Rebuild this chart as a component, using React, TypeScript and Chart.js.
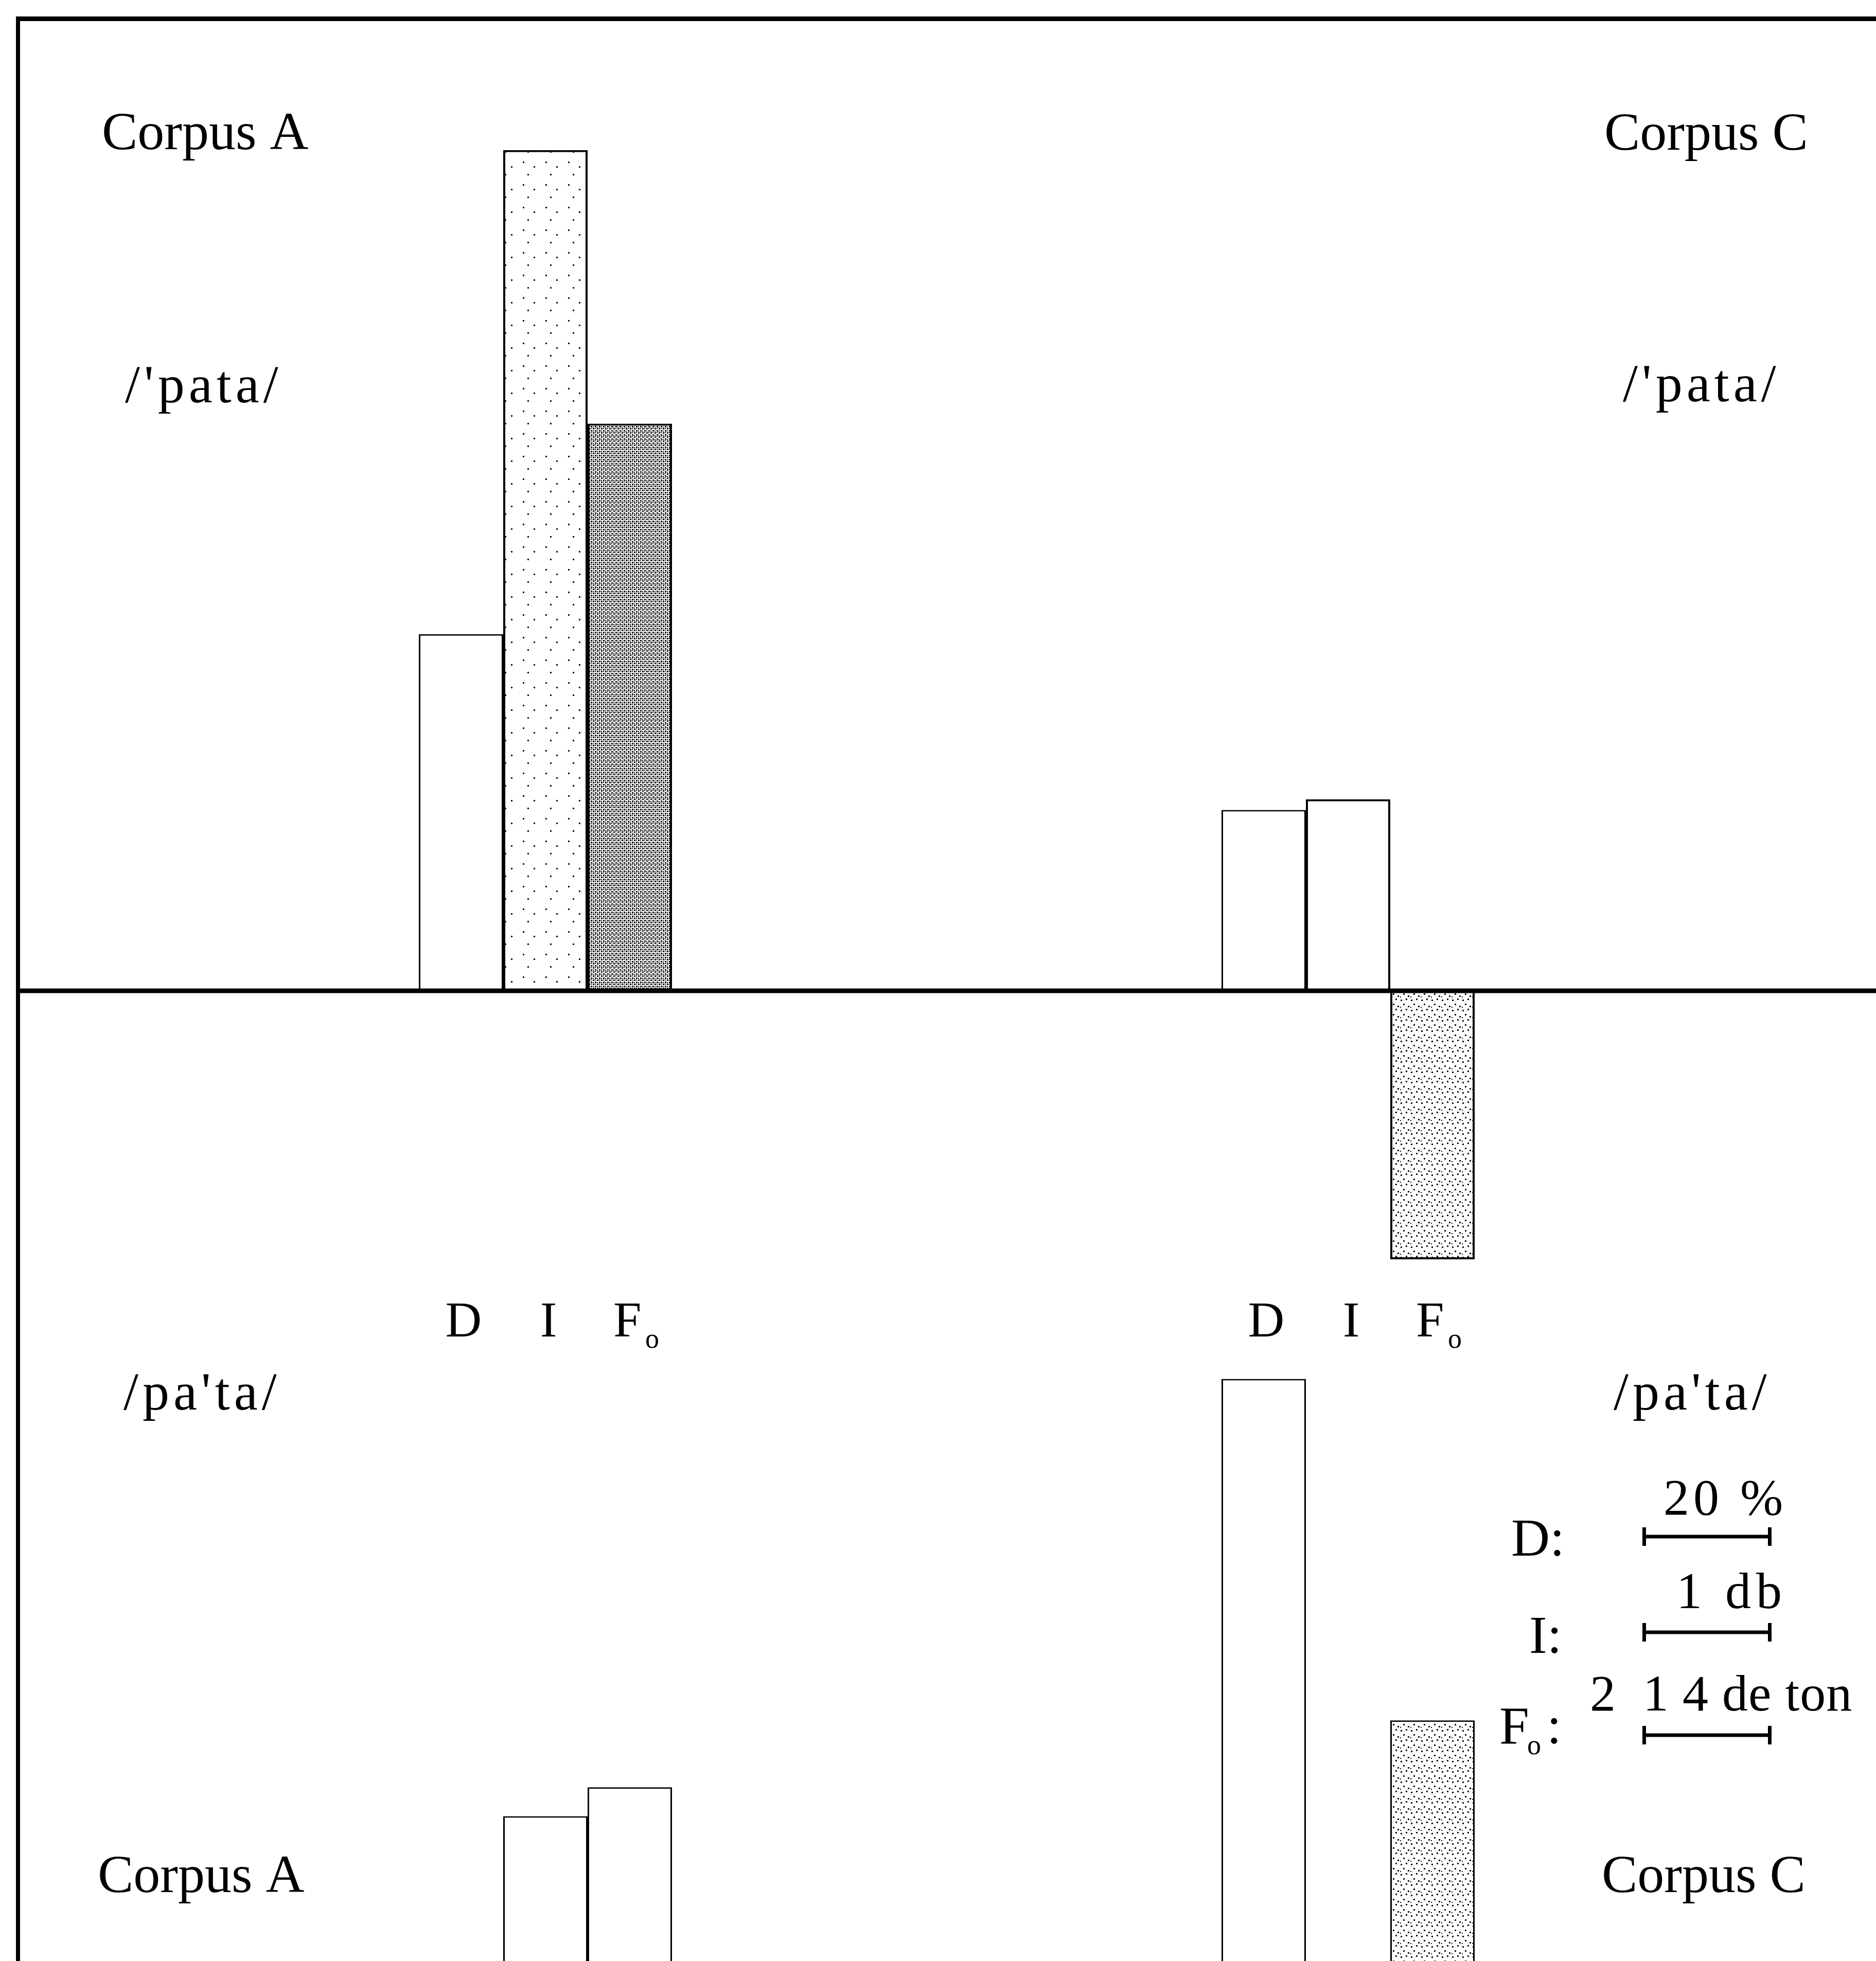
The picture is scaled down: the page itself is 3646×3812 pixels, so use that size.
import React, { useEffect, useRef } from "react";
import { Chart, registerables } from "chart.js";

Chart.register(...registerables);

// ---------- data ----------
const categories = ["Corpus A", "Corpus C"];
const measures = ["D", "I", "F"];
// upper panel  /'pata/
const pataD = [56.6, 28.7]; // duration, %
const pataI = [6.67, 1.52]; // intensity, dB
const pataF0 = [4.5, -2.13]; // F0, in units of "2 1 4 de ton"
// lower panel  /pa'ta/  (baseline below the visible part)
const patatD = [15, 111.8];
const patatI = [2.12, 0.5];
const patatF0 = [2.35, 2.88];
// scale units shown in the legend
const unitD = 20; // 20 %
const unitI = 1; // 1 db
const unitF = 1; // 2 1 4 de ton
// axis ranges, in legend units
const topRange = [-3.159, 7.698];
const bottomRange = [0.971, 5.714];

const W = 3646;
const H = 3812;
const FONT = '"Liberation Serif", "Times New Roman", serif';

function txt(ctx: CanvasRenderingContext2D, s: string, x: number, y: number, size = 104, align: CanvasTextAlign = "left", spacing = 0) {
  ctx.save();
  ctx.font = `${size}px ${FONT}`;
  ctx.fillStyle = "#000";
  ctx.textAlign = align;
  ctx.textBaseline = "alphabetic";
  try { (ctx as any).letterSpacing = spacing + "px"; } catch (e) {}
  ctx.fillText(s, x, y);
  ctx.restore();
}

function makePattern(target: CanvasRenderingContext2D, size: number, dots: number[][]) {
  const c = document.createElement("canvas");
  c.width = size;
  c.height = size;
  const g = c.getContext("2d")!;
  g.fillStyle = "#fff";
  g.fillRect(0, 0, size, size);
  g.fillStyle = "#111";
  dots.forEach(([x, y, s]) => g.fillRect(x, y, s, s));
  return target.createPattern(c, "repeat")!;
}

function scaleBar(ctx: CanvasRenderingContext2D, x: number, y: number, len: number) {
  ctx.save();
  ctx.fillStyle = "#000";
  ctx.fillRect(x, y - 3.5, len, 7);
  ctx.fillRect(x - 3, y - 18, 7, 36);
  ctx.fillRect(x + len - 4, y - 18, 7, 36);
  ctx.restore();
}

const axes = (range: number[]) => ({
  x: { type: "category" as const, display: false, offset: true },
  yD: { type: "linear" as const, display: false, min: range[0] * unitD, max: range[1] * unitD },
  yI: { type: "linear" as const, display: false, min: range[0] * unitI, max: range[1] * unitI },
  yF: { type: "linear" as const, display: false, min: range[0] * unitF, max: range[1] * unitF },
});

export default function App() {
  const c1 = useRef<HTMLCanvasElement>(null);
  const c2 = useRef<HTMLCanvasElement>(null);

  useEffect(() => {
    const ctx1 = c1.current!.getContext("2d")!;
    const ctx2 = c2.current!.getContext("2d")!;
    const sparse1 = makePattern(ctx1, 44, [[4, 6, 3], [25, 15, 3], [13, 30, 3]]);
    const mediumDots = [[2, 3, 3], [12, 1, 3], [7, 11, 3], [16, 15, 3], [1, 17, 2]];
    const medium1 = makePattern(ctx1, 20, mediumDots);
    const dark1 = makePattern(ctx1, 8, [[0, 0, 3], [4, 4, 3], [4, 0, 2], [0, 5, 2]]);
    const medium2 = makePattern(ctx2, 20, mediumDots);

    const topPlugin = {
      id: "frameText",
      afterDatasetsDraw(chart: any) {
        const ctx: CanvasRenderingContext2D = chart.ctx;
        const yD = chart.scales.yD;
        const yI = chart.scales.yI;
        const yF = chart.scales.yF;
        const y0 = yD.getPixelForValue(0);
        ctx.save();
        ctx.fillStyle = "#000";
        ctx.fillRect(33, 32, W - 33, 9);
        ctx.fillRect(31, 32, 8, H - 32);
        ctx.fillRect(31, y0 - 4.5, W - 31, 9);
        ctx.restore();

        txt(ctx, "Corpus A", 198, 290);
        txt(ctx, "Corpus C", 3118, 291);
        txt(ctx, "/'pata/", 243, 782, 104, "left", 8);
        txt(ctx, "/'pata/", 3154, 780, 104, "left", 8);
        txt(ctx, "/pa'ta/", 240, 2740, 104, "left", 8);
        txt(ctx, "/pa'ta/", 3136, 2740, 104, "left", 8);
        txt(ctx, "Corpus A", 190, 3678);
        txt(ctx, "Corpus C", 3113, 3678);

        // measure labels under each group
        const mD = chart.getDatasetMeta(0);
        const mI = chart.getDatasetMeta(1);
        const mF = chart.getDatasetMeta(2);
        categories.forEach((_, i) => {
          txt(ctx, measures[0], mD.data[i].x + 5, 2598, 98, "center");
          txt(ctx, measures[1], mI.data[i].x + 6, 2598, 98, "center");
          const fx = mF.data[i].x - 32;
          txt(ctx, measures[2], fx, 2598, 98, "left");
          txt(ctx, "o", fx + 62, 2620, 54, "left");
        });

        // legend with scale bars
        const lenD = yD.getPixelForValue(0) - yD.getPixelForValue(unitD);
        const lenI = yI.getPixelForValue(0) - yI.getPixelForValue(unitI);
        const lenF = yF.getPixelForValue(0) - yF.getPixelForValue(unitF);
        txt(ctx, "20 %", 3233, 2944, 100, "left", 8);
        txt(ctx, "D:", 2937, 3024, 104);
        scaleBar(ctx, 3195, 2987, lenD);
        txt(ctx, "1 db", 3258, 3126, 100, "left", 10);
        txt(ctx, "I:", 2972, 3213, 104);
        scaleBar(ctx, 3195, 3173, lenI);
        txt(ctx, "2  1 4 de ton", 3090, 3325, 100, "left", 1);
        txt(ctx, "F", 2914, 3389, 104);
        txt(ctx, "o", 2968, 3410, 54);
        txt(ctx, ":", 3006, 3389, 104);
        scaleBar(ctx, 3195, 3373, lenF);
      },
    };

    const barCommon = { categoryPercentage: 0.3154, barPercentage: 1.0, borderColor: "#000" };

    const chart1 = new Chart(c1.current!, {
      type: "bar",
      data: {
        labels: categories,
        datasets: [
          { label: "D", data: pataD, yAxisID: "yD", backgroundColor: ["#fff", "#fff"], borderWidth: 3, ...barCommon },
          { label: "I", data: pataI, yAxisID: "yI", backgroundColor: [sparse1, "#fff"], borderWidth: 4, ...barCommon },
          { label: "F0", data: pataF0, yAxisID: "yF", backgroundColor: [dark1, medium1], borderWidth: 4, ...barCommon },
        ],
      },
      options: {
        responsive: false,
        animation: false,
        devicePixelRatio: 1,
        events: [],
        layout: { padding: { left: 280, right: 246, top: 40, bottom: 1112 } },
        plugins: { legend: { display: false }, tooltip: { enabled: false }, title: { display: false } },
        scales: axes(topRange),
      },
      plugins: [topPlugin],
    });

    const chart2 = new Chart(c2.current!, {
      type: "bar",
      data: {
        labels: categories,
        datasets: [
          { label: "D", data: patatD, yAxisID: "yD", backgroundColor: ["#fff", "#fff"], borderWidth: 3, ...barCommon },
          { label: "I", data: patatI, yAxisID: "yI", backgroundColor: ["#fff", "#fff"], borderWidth: 3, ...barCommon },
          { label: "F0", data: patatF0, yAxisID: "yF", backgroundColor: ["#fff", medium2], borderWidth: 3, ...barCommon },
        ],
      },
      options: {
        responsive: false,
        animation: false,
        devicePixelRatio: 1,
        events: [],
        layout: { padding: { left: 280, right: 246, top: 2650, bottom: 0 } },
        plugins: { legend: { display: false }, tooltip: { enabled: false }, title: { display: false } },
        scales: axes(bottomRange),
      },
    });

    return () => {
      chart1.destroy();
      chart2.destroy();
    };
  }, []);

  const cs: React.CSSProperties = { position: "absolute", left: 0, top: 0, width: W, height: H };
  return (
    <div style={{ position: "fixed", left: 0, top: 0, width: W, height: H, overflow: "hidden", background: "#fff" }}>
      <canvas ref={c1} width={W} height={H} style={cs} />
      <canvas ref={c2} width={W} height={H} style={cs} />
    </div>
  );
}
